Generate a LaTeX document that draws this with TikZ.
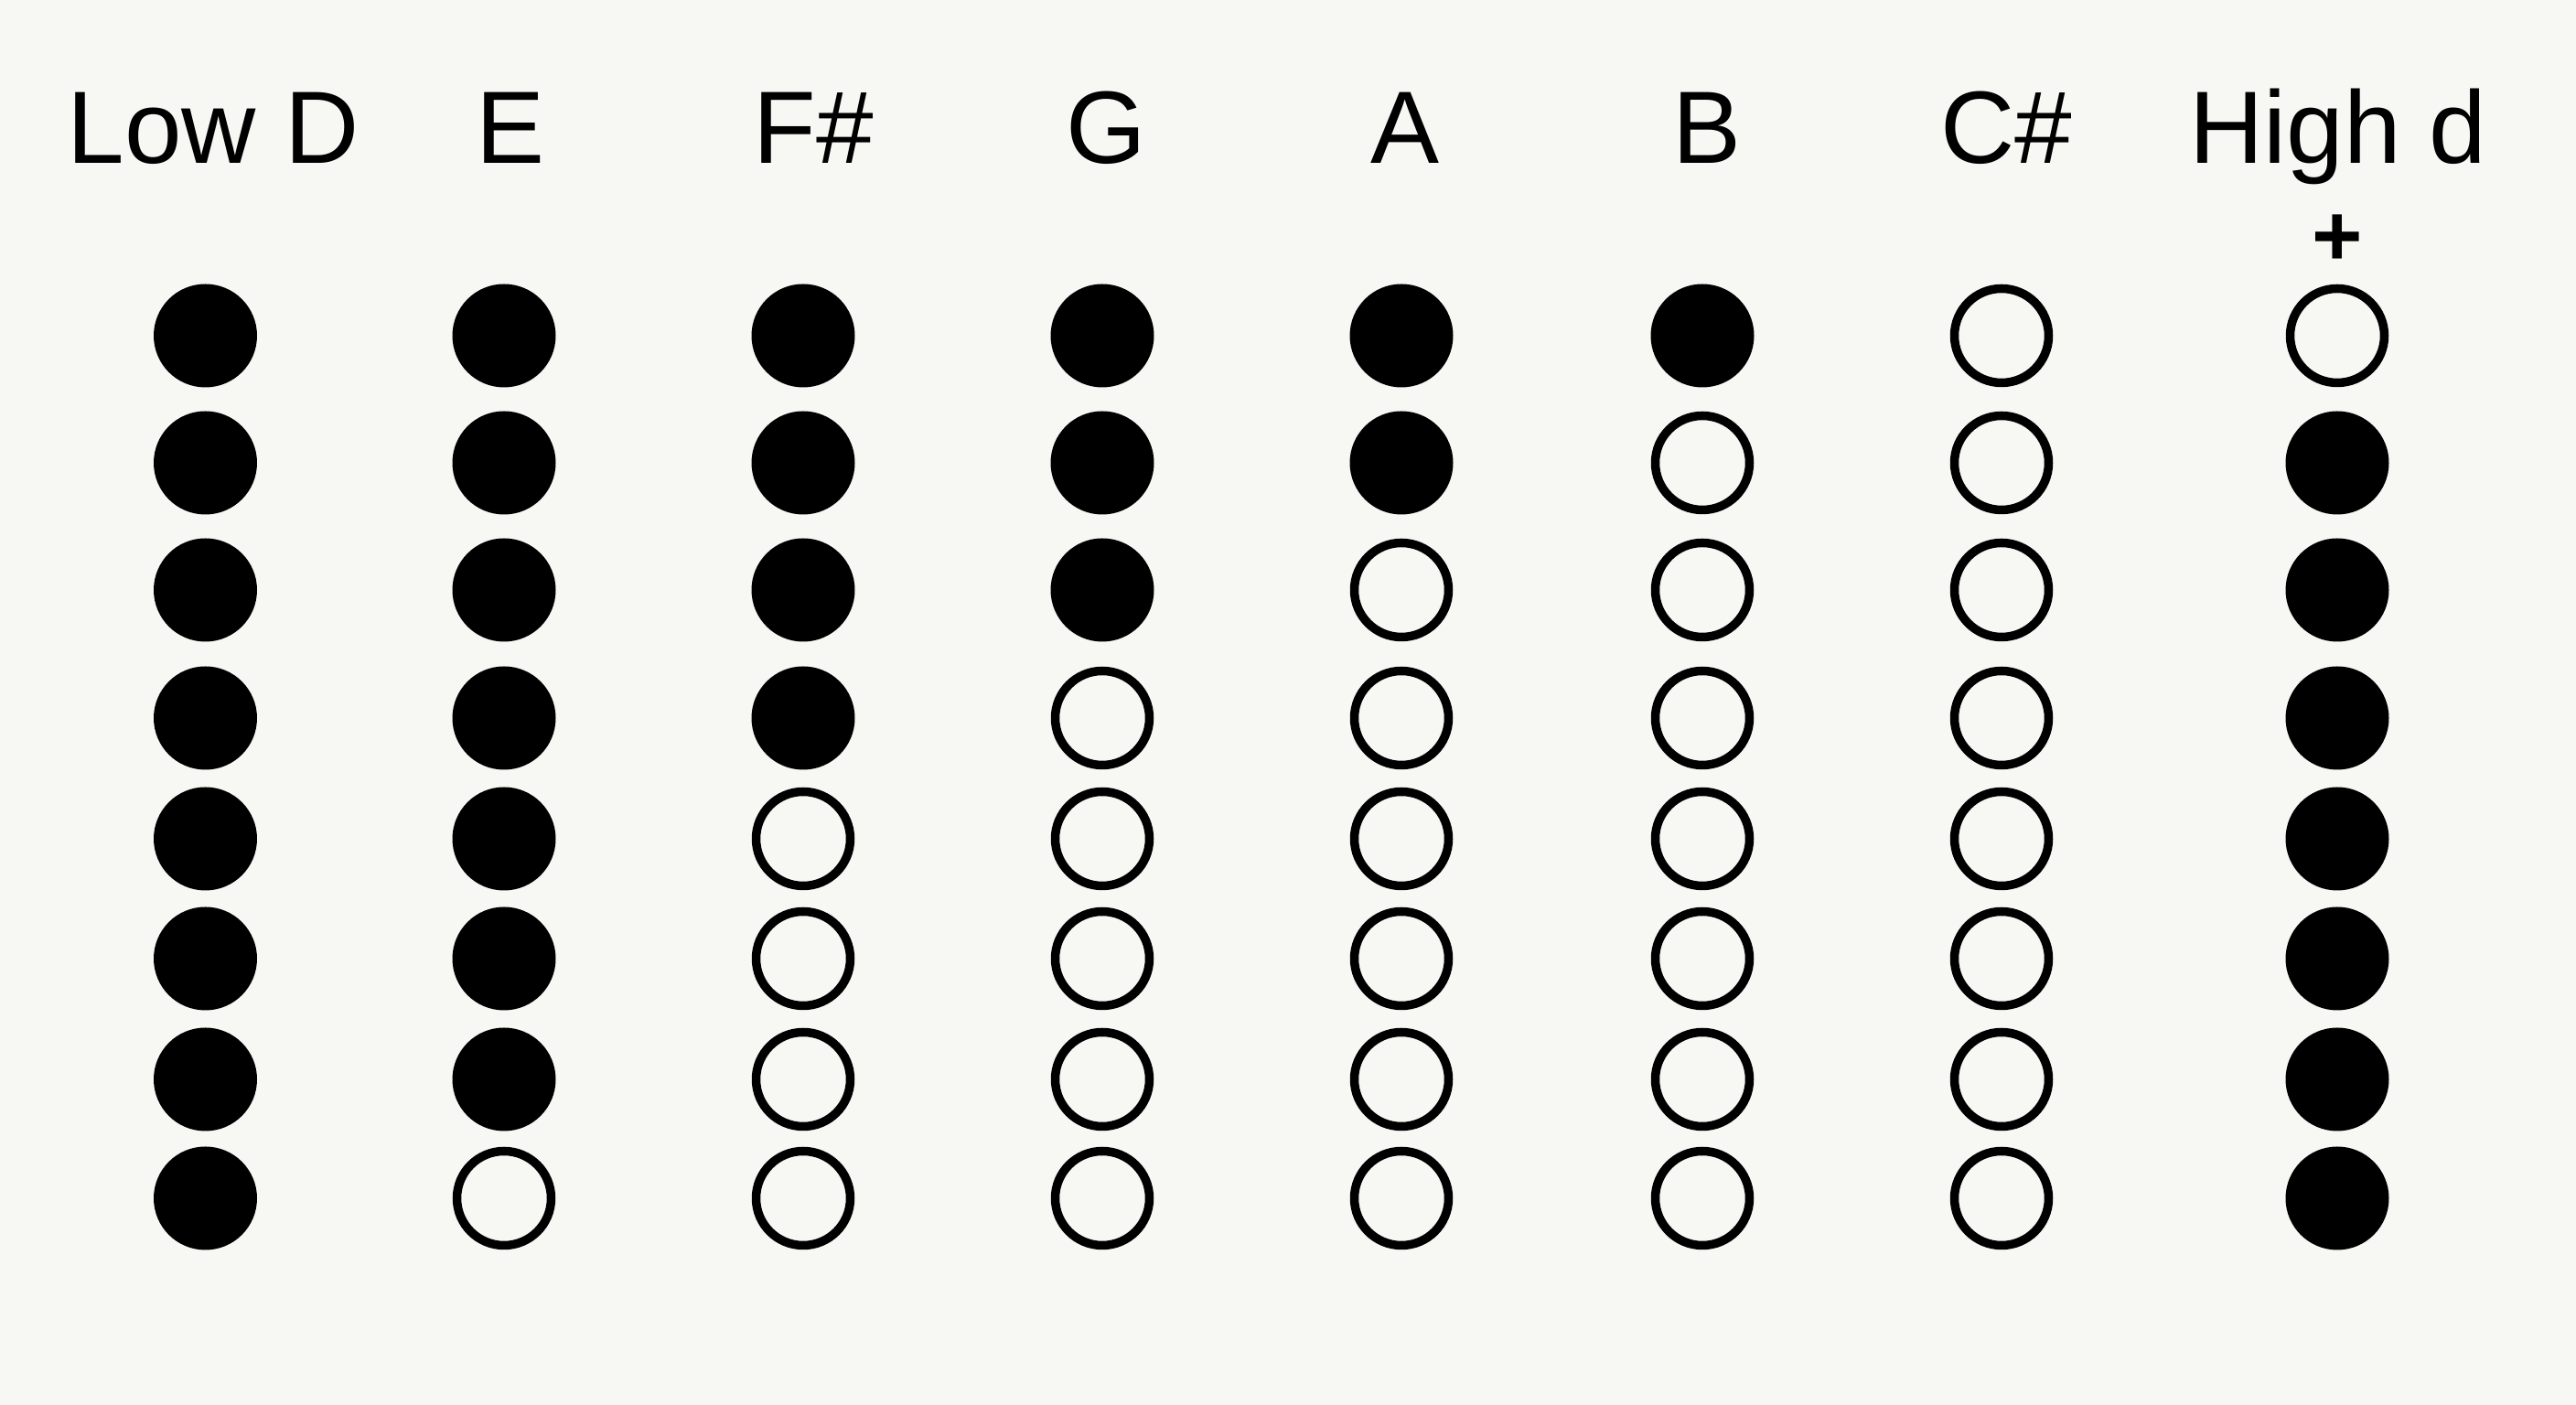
\documentclass[tikz,border=0pt]{standalone}
\usepackage{fontspec}
\setmainfont{Liberation Sans}
\usetikzlibrary{positioning}
\definecolor{paper}{RGB}{247,247,243}

\begin{document}
\begin{tikzpicture}[
                hole/.style={circle,inner sep=0pt},
                hc/.style={hole,fill=black,minimum size=1.13cm},
                ho/.style={hole,draw=black,line width=0.095cm,minimum size=1.03cm},
                note/.style={font=\fontsize{32}{36}\selectfont,anchor=base}
            ]
                \fill[paper] (0,0) rectangle (28.16,15.36);
                % note names
                \foreach \x/\n/\t in {2.33/1/Low D,5.58/2/E,8.89/3/F\#,12.09/4/G,
                                      15.36/5/A,18.66/6/B,21.93/7/C\#,25.56/8/High d}
                    \node[note] (n\n) at (\x,13.57) {\t};
                \node[font=\fontsize{27}{30}\selectfont\bfseries,inner sep=0pt] (plus) at (25.55,12.73) {+};
                % holes, top to bottom
                \foreach \x/\n/\p in {2.245/1/{c,c,c,c,c,c,c,c},5.51/2/{c,c,c,c,c,c,c,o},
                                      8.78/3/{c,c,c,c,o,o,o,o},12.05/4/{c,c,c,o,o,o,o,o},
                                      15.32/5/{c,c,o,o,o,o,o,o},18.61/6/{c,o,o,o,o,o,o,o},
                                      21.88/7/{o,o,o,o,o,o,o,o},25.55/8/{o,c,c,c,c,c,c,c}}
                    \foreach \s [count=\r] in \p {
                        \pgfmathsetmacro\y{{11.69,10.30,8.91,7.51,6.19,4.88,3.56,2.26}[\r-1]}
                        \node[h\s] (h\n-\r) at (\x,\y) {};
                    }
            \end{tikzpicture}
\end{document}
